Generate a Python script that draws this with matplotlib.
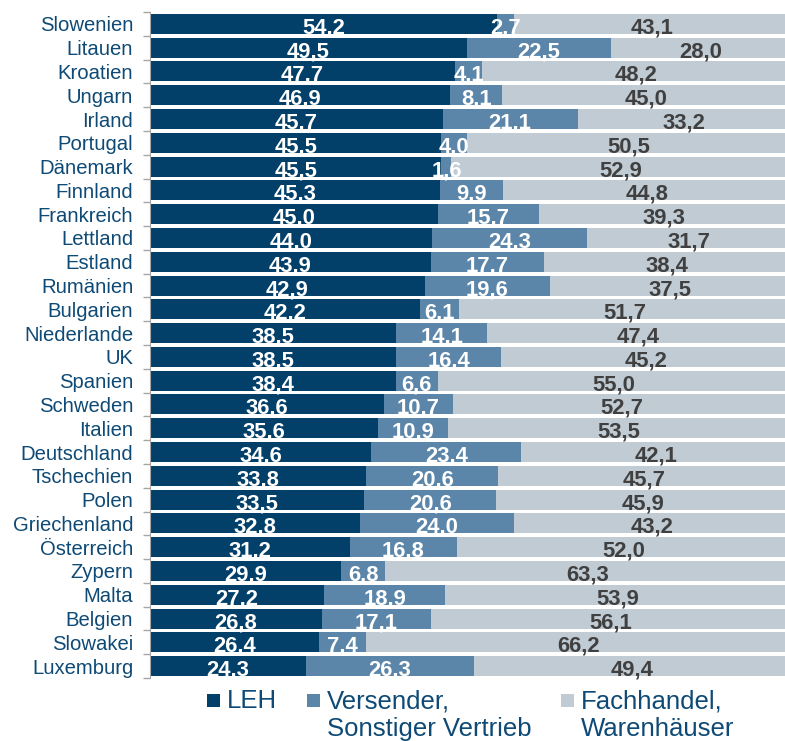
import matplotlib
matplotlib.use("Agg")
import matplotlib.pyplot as plt
from matplotlib.patches import Rectangle
import numpy as np

plt.rcParams['font.family'] = ['Liberation Sans', 'DejaVu Sans']

countries = ["Slowenien", "Litauen", "Kroatien", "Ungarn", "Irland", "Portugal", "Dänemark",
             "Finnland", "Frankreich", "Lettland", "Estland", "Rumänien", "Bulgarien",
             "Niederlande", "UK", "Spanien", "Schweden", "Italien", "Deutschland",
             "Tschechien", "Polen", "Griechenland", "Österreich", "Zypern", "Malta",
             "Belgien", "Slowakei", "Luxemburg"]
leh = [54.2, 49.5, 47.7, 46.9, 45.7, 45.5, 45.5, 45.3, 45.0, 44.0, 43.9, 42.9, 42.2,
       38.5, 38.5, 38.4, 36.6, 35.6, 34.6, 33.8, 33.5, 32.8, 31.2, 29.9, 27.2, 26.8, 26.4, 24.3]
versender = [2.7, 22.5, 4.1, 8.1, 21.1, 4.0, 1.6, 9.9, 15.7, 24.3, 17.7, 19.6, 6.1,
             14.1, 16.4, 6.6, 10.7, 10.9, 23.4, 20.6, 20.6, 24.0, 16.8, 6.8, 18.9, 17.1, 7.4, 26.3]
fachhandel = [43.1, 28.0, 48.2, 45.0, 33.2, 50.5, 52.9, 44.8, 39.3, 31.7, 38.4, 37.5, 51.7,
              47.4, 45.2, 55.0, 52.7, 53.5, 42.1, 45.7, 45.9, 43.2, 52.0, 63.3, 53.9, 56.1, 66.2, 49.4]
series_names = ["LEH", "Versender,\nSonstiger Vertrieb", "Fachhandel,\nWarenhäuser"]

c_dark = "#023f69"
c_mid = "#5b86a9"
c_light = "#c0cbd4"
c_text = "#0e4a75"
c_lab3 = "#404040"

W, H = 785, 741
fig = plt.figure(figsize=(W/100, H/100), dpi=100)
ax = fig.add_axes([150/W, 1-678/H, 1-150/W, (678-12)/H])

y = np.arange(len(countries))
h = 0.84
series = [leh, versender, fachhandel]
colors = [c_dark, c_mid, c_light]
lab_colors = ["white", "white", c_lab3]
left = np.zeros(len(countries))
for vals, col, lc in zip(series, colors, lab_colors):
    vals = np.array(vals)
    bars = ax.barh(y, vals, left=left, height=h, color=col, edgecolor='none')
    for i, (b, v) in enumerate(zip(bars, vals)):
        t = ax.text(left[i] + v/2, y[i] + 0.40, f"{v:.1f}".replace('.', ','),
                    ha='center', va='baseline', color=lc, fontsize=15.8,
                    fontweight='bold')
        t.set_clip_path(b)
    left = left + vals

ax.set_xlim(0, 99.2)
ax.set_ylim(len(countries)-0.5, -0.5)
ax.set_yticks(y)
ax.set_yticklabels(countries, fontsize=14.6, color=c_text)
ax.tick_params(axis='y', which='major', length=0, pad=12)
ax.set_yticks(np.arange(len(countries)+1) - 0.5, minor=True)
ax.tick_params(axis='y', which='minor', length=5, color='#a6a6a6', width=1)
ax.set_xticks([])
for s in ['top', 'right', 'bottom']:
    ax.spines[s].set_visible(False)
ax.spines['left'].set_color('#a6a6a6')

# legend
leg_x = [207, 307, 561]
for xm, name, col in zip(leg_x, series_names, colors):
    fig.add_artist(Rectangle((xm/W, 1-707/H), 13/W, 13/H, transform=fig.transFigure,
                             color=col, lw=0))
    lines = name.split("\n")
    for k, line in enumerate(lines):
        fig.text((xm+20)/W, 1-(708+28*k)/H, line, fontsize=18.5, color=c_text,
                 ha='left', va='baseline')

fig.savefig("out.png", dpi=100)
